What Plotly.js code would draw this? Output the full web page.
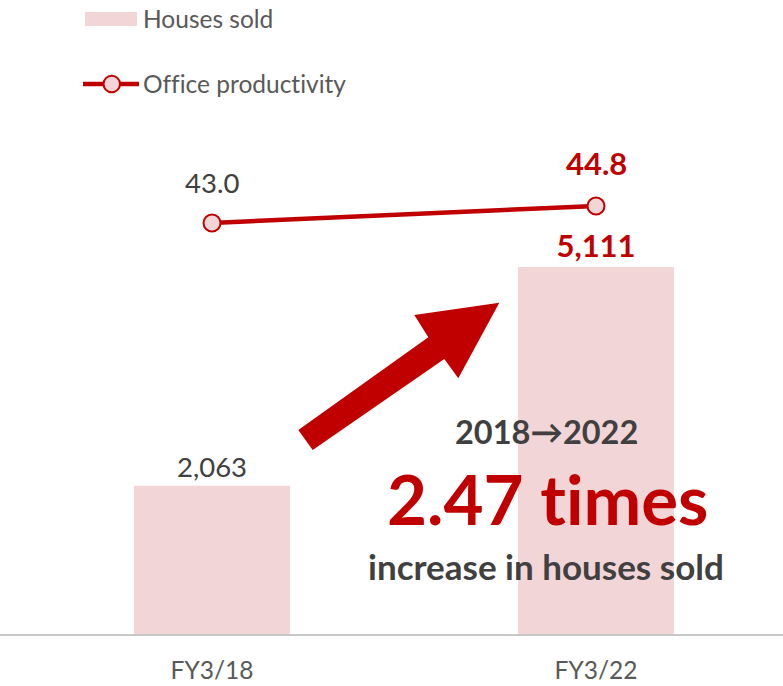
<!DOCTYPE html>
<html>
<head>
<meta charset="utf-8">
<script src="https://cdn.plot.ly/plotly-3.0.1.min.js"></script>
<style>
  html, body { margin: 0; padding: 0; background: #ffffff; }
  #chart { width: 783px; height: 686px; }
  svg text { font-variant-ligatures: none; font-feature-settings: "liga" 0, "clig" 0; }
</style>
</head>
<body>
<div id="chart"></div>
<script>
// ---- data ----
const categories = ['FY3/18', 'FY3/22'];
const housesSold = [2063, 5111];
const officeProductivity = [43.0, 44.8];
const seriesNames = ['Houses sold', 'Office productivity'];
const headline = ['2018\u21922022', '2.47 times', 'increase in houses sold'];

// ---- styling ----
const W = 783, H = 686;
const M = {l: 0, r: 0, t: 100, b: 52};
const plotW = W - M.l - M.r, plotH = H - M.t - M.b;
const px = v => (v - M.l) / plotW;            // pixel x -> paper
const py = v => (H - M.b - v) / plotH;        // pixel y -> paper

const RED = '#C00000';
const PINK = '#F2D5D6';
const DARK = '#404040';
const GREY = '#595959';
const FONT = 'Lato, "Open Sans", sans-serif';

const barTrace = {
  type: 'bar',
  x: categories,
  y: housesSold,
  name: seriesNames[0],
  width: 0.406,
  marker: {color: PINK},
  texttemplate: ['%{y:,}', '<b>%{y:,}</b>'],
  textposition: 'outside',
  constraintext: 'none',
  cliponaxis: false,
  textfont: {family: FONT, size: [27.5, 31], color: [DARK, RED]},
  hoverinfo: 'skip',
  showlegend: false
};

const lineTrace = {
  type: 'scatter',
  mode: 'lines+markers',
  x: categories,
  y: officeProductivity,
  yaxis: 'y2',
  name: seriesNames[1],
  line: {color: RED, width: 4.5},
  marker: {size: 17, color: PINK, line: {color: RED, width: 2}},
  cliponaxis: false,
  hoverinfo: 'skip',
  showlegend: false
};

// value labels for the line (built from the data arrays)
const lineLabels = categories.map((c, i) => ({
  xref: 'x', yref: 'y2', x: c, y: officeProductivity[i],
  xanchor: 'center', yanchor: 'bottom', yshift: 22, showarrow: false,
  text: i === categories.length - 1 ? '<b>' + officeProductivity[i].toFixed(1) + '</b>' : officeProductivity[i].toFixed(1),
  font: {family: FONT, size: i === categories.length - 1 ? 31 : 27.5, color: i === categories.length - 1 ? RED : DARK}
}));

const shapes = [
  // legend swatches
  {type: 'rect', xref: 'paper', yref: 'paper', x0: px(85), x1: px(137), y0: py(26), y1: py(12),
   fillcolor: PINK, line: {width: 0}},
  {type: 'line', xref: 'paper', yref: 'paper', x0: px(83), x1: px(139), y0: py(84), y1: py(84),
   line: {color: RED, width: 4.5}},
  {type: 'circle', xref: 'paper', yref: 'paper', x0: px(103.5), x1: px(120), y0: py(92.3), y1: py(75.7),
   fillcolor: PINK, line: {color: RED, width: 2}},
  // big red arrow
  {type: 'path', xref: 'paper', yref: 'paper', layer: 'above', line: {width: 0}, fillcolor: RED,
   path: 'M' + [[298.3, 430], [312.7, 450], [444.3, 359], [458.3, 378.3], [499.3, 302.7], [414.3, 315], [428.3, 337.3]]
     .map(p => px(p[0]) + ',' + py(p[1])).join(' L') + ' Z'}
];

const annotations = lineLabels.concat([
  {xref: 'paper', yref: 'paper', x: px(141), y: py(19), xanchor: 'left', yanchor: 'middle', showarrow: false,
   text: seriesNames[0], font: {family: FONT, size: 24.5, color: GREY}},
  {xref: 'paper', yref: 'paper', x: px(141), y: py(84), xanchor: 'left', yanchor: 'middle', showarrow: false,
   text: seriesNames[1], font: {family: FONT, size: 24.5, color: GREY}},
  {xref: 'paper', yref: 'paper', x: px(546), y: py(431), xanchor: 'center', yanchor: 'middle', showarrow: false,
   text: '<b>' + headline[0] + '</b>', font: {family: FONT, size: 32.5, color: DARK}},
  {xref: 'paper', yref: 'paper', x: px(547), y: py(498), xanchor: 'center', yanchor: 'middle', showarrow: false,
   text: '<b>' + headline[1] + '</b>', font: {family: FONT, size: 69, color: RED}},
  {xref: 'paper', yref: 'paper', x: px(546), y: py(566), xanchor: 'center', yanchor: 'middle', showarrow: false,
   text: '<b>' + headline[2] + '</b>', font: {family: FONT, size: 35, color: DARK}}
]);

const layout = {
  width: W, height: H,
  margin: M,
  paper_bgcolor: '#ffffff',
  plot_bgcolor: '#ffffff',
  showlegend: false,
  xaxis: {
    type: 'category',
    range: [-212 / 384, 1 + (783 - 596) / 384],
    showline: true, linecolor: '#C8C8C8', linewidth: 1.5,
    showgrid: false, zeroline: false, ticks: '',
    tickfont: {family: FONT, size: 24.5, color: GREY},
    ticklabelstandoff: 14,
    fixedrange: true
  },
  yaxis: {
    range: [0, 7436], visible: false, showgrid: false, zeroline: false, fixedrange: true
  },
  yaxis2: {
    range: [-0.52, 56.02], overlaying: 'y', side: 'right', visible: false,
    showgrid: false, zeroline: false, fixedrange: true
  },
  shapes: shapes,
  annotations: annotations
};

Plotly.newPlot('chart', [barTrace, lineTrace], layout, {staticPlot: true, displayModeBar: false});
</script>
</body>
</html>
